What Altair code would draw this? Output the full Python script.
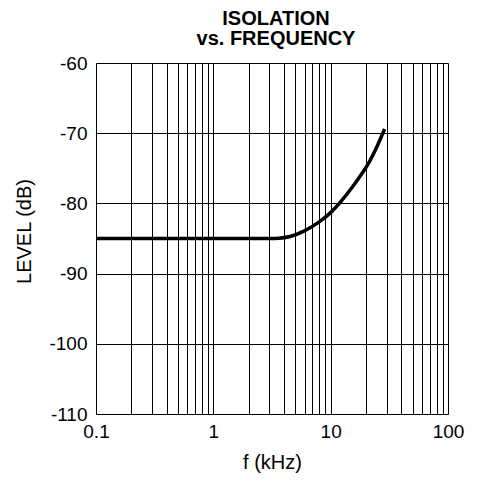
import altair as alt
import pandas as pd

# Curve
freq_khz = [0.1, 0.3, 1.0, 2.0, 3.0, 3.6, 4.47, 5.8, 8.0, 10.1, 11.9, 15.5, 18.8, 21.4, 24.5, 28.8]
level_db = [-85.0, -85.0, -85.0, -85.0, -85.0, -85.0, -84.8, -84.1, -82.7, -81.3, -80.0, -77.6, -75.6, -74.1, -72.2, -69.4]

y_ticks = [-110, -100, -90, -80, -70, -60]
x_labels = [0.1, 1, 10, 100]
x_grid = [0.1, 0.2, 0.3, 0.4, 0.5, 0.6, 0.7, 0.8, 0.9,
          1, 2, 3, 4, 5, 6, 7, 8, 9,
          10, 20, 30, 40, 50, 60, 70, 80, 90, 100]

df = pd.DataFrame({"f": freq_khz, "level": level_db})

FONT = "Liberation Sans, Arial, Helvetica, sans-serif"

label_test = " || ".join(f"datum.value == {v}" for v in x_labels)

chart = alt.Chart(df).mark_line(
    color="black", strokeWidth=3.5, interpolate="basis"
).encode(
    x=alt.X(
        "f:Q",
        scale=alt.Scale(type="log", domain=[0.1, 100], nice=False),
        axis=alt.Axis(
            values=x_grid,
            labelExpr=f"({label_test}) ? '' + datum.value : ''",
            title="f (kHz)",
            grid=True, gridColor="black", gridWidth=1, gridOpacity=1,
            domain=False, ticks=False,
            labelPadding=8, labelFontSize=19, labelFont=FONT, labelColor="black",
            labelFlush=False, labelOverlap=False,
            titleFontSize=20, titleFont=FONT, titleFontWeight="normal", titleColor="black",
            titleBaseline="middle", titleY=48,
        ),
    ),
    y=alt.Y(
        "level:Q",
        scale=alt.Scale(domain=[-110, -60], nice=False, zero=False),
        axis=alt.Axis(
            values=y_ticks,
            labelExpr="'' + datum.value",
            title="LEVEL (dB)",
            grid=True, gridColor="black", gridWidth=1, gridOpacity=1,
            domain=False, ticks=False,
            labelPadding=9, labelFontSize=19, labelFont=FONT, labelColor="black",
            labelFlush=False, labelOverlap=False,
            titleFontSize=20, titleFont=FONT, titleFontWeight="normal", titleColor="black",
            titleAngle=270, titleBaseline="middle", titleAlign="center",
            titleX=-72, titleY=168,
        ),
    ),
).properties(
    width=352,
    height=351,
    title=alt.TitleParams(
        text=["ISOLATION", "vs. FREQUENCY"],
        font=FONT, fontSize=20, fontWeight="bold", color="black",
        anchor="middle", frame="group", lineHeight=20, offset=5, dx=4,
    ),
    autosize=alt.AutoSizeParams(type="none"),
    padding={"left": 88, "top": 55, "right": 25, "bottom": 60},
).configure_view(
    stroke="black", strokeWidth=4
).configure(background="white")

chart.save("out.html", embed_options={"renderer": "svg", "actions": False})
